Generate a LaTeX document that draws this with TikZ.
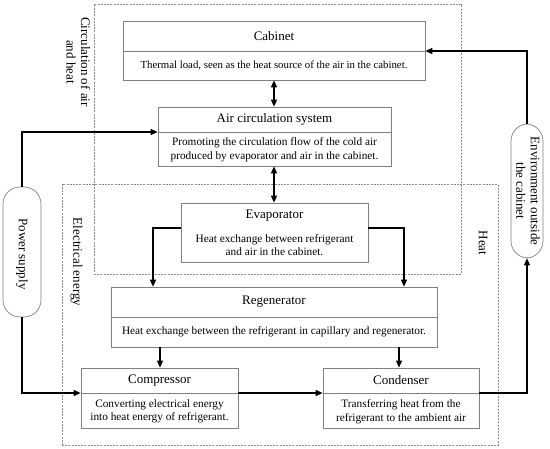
\documentclass[tikz,border=0pt]{standalone}
\usepackage{fontspec}
\setmainfont{Liberation Serif}
\usetikzlibrary{arrows.meta}
\definecolor{boxgray}{HTML}{808080}
\definecolor{dashgray}{HTML}{8C8C8C}
\begin{document}
\begin{tikzpicture}[x=1pt,y=-1pt,
  box/.style={draw=boxgray, line width=0.7pt, inner sep=0pt, rectangle},
  dbox/.style={draw=dashgray, dash pattern=on 2pt off 1.2pt, line width=0.6pt, inner sep=0pt, rectangle},
  pill/.style={draw=boxgray, line width=0.7pt, inner sep=0pt, rectangle, rounded corners=17pt},
  arr/.style={-{Triangle[length=7pt,width=6pt]}, line width=1.1pt},
  darr/.style={{Triangle[length=7pt,width=6pt]}-{Triangle[length=7pt,width=6pt]}, line width=1.1pt},
  txt/.style={font=\fontsize{11.3}{13.5}\selectfont, align=center, inner sep=0pt},
  ttl/.style={font=\fontsize{13}{14.5}\selectfont, align=center, inner sep=0pt},
  div/.style={draw=boxgray, line width=0.7pt}]
\useasboundingbox (0,0) rectangle (550,449);

% dashed regions
\node[dbox, minimum width=367pt, minimum height=270pt] (dA) at (277.5,139) {};
\node[dbox, minimum width=436pt, minimum height=261pt] (dB) at (280,314.5) {};

% boxes
\node[box, minimum width=302pt, minimum height=59pt] (cab) at (274,50.5) {};
\node[box, minimum width=233pt, minimum height=59pt] (air) at (274.5,136.5) {};
\node[box, minimum width=187pt, minimum height=59pt] (evap) at (274.5,232.5) {};
\node[box, minimum width=326pt, minimum height=60pt] (reg) at (274,317) {};
\node[box, minimum width=157pt, minimum height=60pt] (comp) at (159.5,398) {};
\node[box, minimum width=156pt, minimum height=60pt] (cond) at (401,398) {};
\node[pill, minimum width=38pt, minimum height=130pt] (pow) at (22,252) {};
\node[pill, minimum width=32pt, minimum height=134pt] (env) at (527,191) {};

% divider levels
\coordinate (cabd) at (0,51);
\coordinate (aird) at (0,132);
\coordinate (evd) at (0,228);
\coordinate (regd) at (0,317);
\coordinate (cd) at (0,393);
\draw[div] (cab.west |- cabd) -- (cab.east |- cabd);
\draw[div] (air.west |- aird) -- (air.east |- aird);
\draw[div] (reg.west |- regd) -- (reg.east |- regd);
\draw[div] (comp.west |- cd) -- (comp.east |- cd);
\draw[div] (cond.west |- cd) -- (cond.east |- cd);

% texts
\node[ttl] (cabt) at (274,36) {Cabinet};
\node[txt, font=\fontsize{10.8}{13.5}\selectfont] (cabs) at (274,65.5) {Thermal load, seen as the heat source of the air in the cabinet.};
\node[ttl] (airt) at (274.5,119.5) {Air circulation system};
\node[txt] (airs) at (274.5,149.5) {Promoting the circulation flow of the cold air\\produced by evaporator and air in the cabinet.};
\node[ttl] (evt) at (274.5,216) {Evaporator};
\node[txt] (evs) at (274.5,245) {Heat exchange between refrigerant\\and air in the cabinet.};
\node[ttl] (regt) at (274,302) {Regenerator};
\node[txt] (regs) at (274,332) {Heat exchange between the refrigerant in capillary and regenerator.};
\node[ttl] (compt) at (159.5,380.5) {Compressor};
\node[txt] (comps) at (159.5,411.5) {Converting electrical energy\\into heat energy of refrigerant.};
\node[ttl] (condt) at (401,380.5) {Condenser};
\node[txt] (conds) at (401,411.5) {Transferring heat from the\\refrigerant to the ambient air};
\node[ttl, rotate=-90] (powt) at (22,254) {Power supply};
\node[ttl, rotate=-90] (envt) at (528,191) {Environment outside\\the cabinet};
\node[ttl, rotate=-90] (lA) at (78.5,62) {Circulation of air\\and heat};
\node[ttl, rotate=-90] (lB) at (76.5,262) {Electrical energy};
\node[ttl, rotate=-90] (lC) at (483,243) {Heat};

% connectors
\coordinate (xm) at (274,0);
\coordinate (xl) at (153,0);
\coordinate (xr) at (404,0);
\coordinate (xc) at (160,0);
\coordinate (xd) at (399,0);
\draw[darr] (xm |- cab.south) -- (xm |- air.north);
\draw[darr] (xm |- air.south) -- (xm |- evap.north);
\draw[arr] (evap.west |- evd) -| (xl |- reg.north);
\draw[arr] (evap.east |- evd) -| (xr |- reg.north);
\draw[arr] (xc |- reg.south) -- (xc |- comp.north);
\draw[arr] (xd |- reg.south) -- (xd |- cond.north);
\draw[arr] (comp.east |- cd) -- (cond.west |- cd);
\draw[arr] (cond.east |- cd) -| (env.south);
\draw[arr] (env.north) |- (cab.east |- cabd);
\draw[arr] (pow.north) |- (air.west |- aird);
\draw[arr] (pow.south) |- (comp.west |- cd);
\end{tikzpicture}
\end{document}
